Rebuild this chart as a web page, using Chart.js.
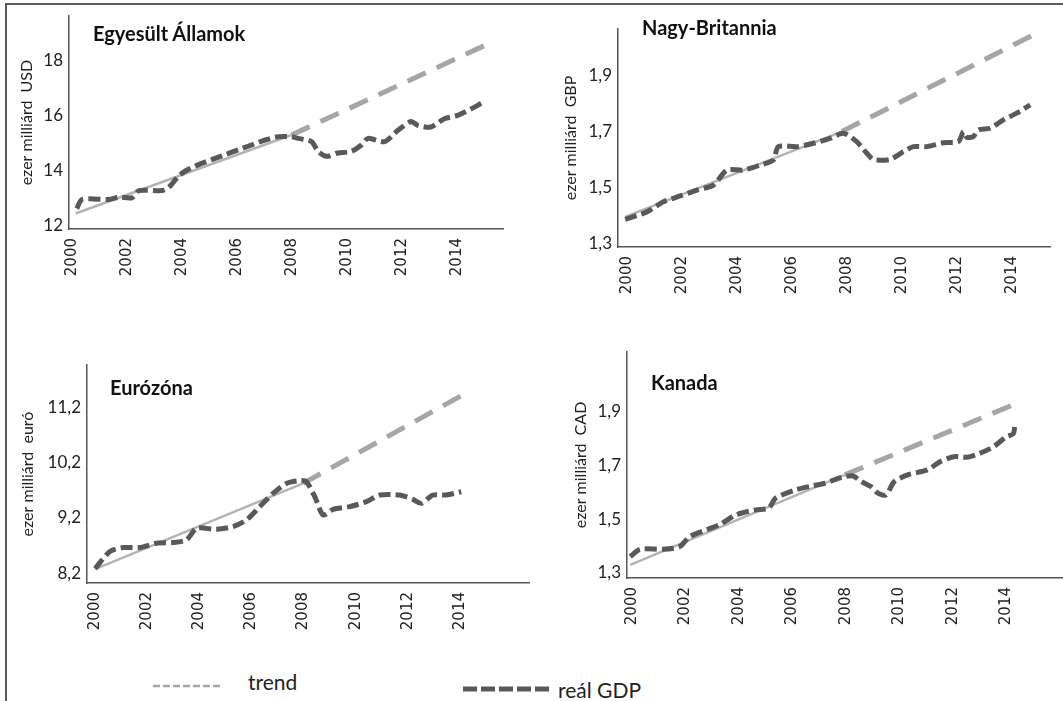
<!DOCTYPE html>
<html>
<head>
<meta charset="utf-8">
<script src="https://cdn.jsdelivr.net/npm/chart.js@4/dist/chart.umd.min.js"></script>
<style>
  body { margin: 0; width: 1063px; height: 701px; overflow: hidden; background: #fff; position: relative; font-family: Lato, sans-serif; }
  .frame { position: absolute; left: 5px; top: 3px; width: 1100px; height: 800px; border-top: 2px solid #5b5b5b; border-left: 2px solid #5b5b5b; }
  canvas { position: absolute; }
  .ttl { position: absolute; font: bold 20px Lato; color: #111; line-height: 20px; white-space: nowrap; }
  .legtxt { position: absolute; font: 21px Lato; color: #222; line-height: 22px; white-space: nowrap; }
  svg { position: absolute; }
</style>
</head>
<body>
<div class="frame"></div>
<canvas id="us"></canvas>
<canvas id="uk"></canvas>
<canvas id="eu"></canvas>
<canvas id="ca"></canvas>
<div class="ttl" style="left:93px;top:23px">Egyesült Államok</div>
<div class="ttl" style="left:642px;top:17px">Nagy-Britannia</div>
<div class="ttl" style="left:110px;top:377px">Eurózóna</div>
<div class="ttl" style="left:651px;top:372px">Kanada</div>
<svg style="left:150px;top:676px" width="420" height="24">
  <line x1="3" y1="10" x2="72" y2="10" stroke="#a6a6a6" stroke-width="2.5" stroke-dasharray="7 3"/>
  <line x1="313" y1="13" x2="402" y2="13" stroke="#595959" stroke-width="5" stroke-dasharray="14 4"/>
</svg>
<div class="legtxt" style="left:248px;top:671px">trend</div>
<div class="legtxt" style="left:558px;top:679px">reál GDP</div>

<script>
const yearTicks = [2000, 2002, 2004, 2006, 2008, 2010, 2012, 2014];

// Egyesült Államok, ezer milliárd USD
const usTicks = [12, 14, 16, 18];
const usGdp = [[2000.17, 12.63], [2000.37, 12.96], [2001.34, 12.96], [2001.70, 13.04], [2002.18, 13.02],
  [2002.43, 13.28], [2003.27, 13.28], [2003.51, 13.39], [2003.88, 13.81], [2004.12, 13.99], [2004.60, 14.22],
  [2005.08, 14.40], [2005.57, 14.58], [2006.05, 14.76], [2006.53, 14.93], [2007.02, 15.11], [2007.50, 15.23],
  [2007.98, 15.23], [2008.22, 15.17], [2008.71, 15.05], [2008.95, 14.70], [2009.25, 14.52], [2009.67, 14.64],
  [2010.16, 14.70], [2010.52, 14.93], [2010.76, 15.17], [2011.36, 15.05], [2011.85, 15.46], [2012.33, 15.78],
  [2012.57, 15.64], [2013.05, 15.58], [2013.54, 15.88], [2014.02, 16.00], [2014.50, 16.23], [2014.93, 16.47]];
const usTrendSolid = [[2000.13, 12.45], [2007.98, 15.29]];
const usTrendDash = [[2007.98, 15.29], [2015.35, 18.69]];

// Nagy-Britannia, ezer milliárd GBP
const ukTicks = [1.3, 1.5, 1.7, 1.9];
const ukGdp = [[1999.94, 1.385], [2000.73, 1.412], [2001.33, 1.448], [2001.94, 1.469], [2002.55, 1.490],
  [2003.15, 1.508], [2003.64, 1.562], [2004.24, 1.562], [2004.85, 1.580], [2005.33, 1.598], [2005.51, 1.646],
  [2006.18, 1.646], [2006.79, 1.658], [2007.39, 1.676], [2007.88, 1.694], [2008.36, 1.664], [2008.73, 1.622],
  [2008.97, 1.600], [2009.57, 1.600], [2010.06, 1.628], [2010.42, 1.646], [2010.91, 1.646], [2011.51, 1.660],
  [2012.06, 1.664], [2012.24, 1.700], [2012.36, 1.680], [2012.60, 1.682], [2012.79, 1.706], [2013.21, 1.712],
  [2013.69, 1.742], [2014.18, 1.766], [2014.67, 1.796]];
const ukTrendSolid = [[1999.94, 1.394], [2007.82, 1.700]];
const ukTrendDash = [[2007.82, 1.700], [2014.79, 2.047]];

// Eurózóna, ezer milliárd euró
const euTicks = [8.2, 9.2, 10.2, 11.2];
const euGdp = [[2000.00, 8.28], [2000.57, 8.59], [2001.08, 8.66], [2001.72, 8.66], [2002.36, 8.74],
  [2003.00, 8.75], [2003.51, 8.80], [2003.90, 9.01], [2004.66, 8.99], [2005.30, 9.04], [2005.81, 9.16],
  [2006.32, 9.40], [2006.83, 9.64], [2007.34, 9.82], [2007.85, 9.87], [2008.11, 9.85], [2008.43, 9.58],
  [2008.75, 9.25], [2009.13, 9.35], [2009.77, 9.40], [2010.41, 9.49], [2010.92, 9.61], [2011.69, 9.61],
  [2012.20, 9.53], [2012.52, 9.46], [2012.96, 9.61], [2013.47, 9.61], [2014.05, 9.67]];
const euTrendSolid = [[2000.00, 8.27], [2007.98, 9.82]];
const euTrendDash = [[2007.98, 9.82], [2014.11, 11.42]];

// Kanada, ezer milliárd CAD
const caTicks = [1.3, 1.5, 1.7, 1.9];
const caGdp = [[1999.93, 1.361], [2000.30, 1.388], [2001.16, 1.388], [2001.78, 1.398], [2002.15, 1.435],
  [2002.77, 1.460], [2003.26, 1.479], [2003.88, 1.516], [2004.62, 1.535], [2005.11, 1.541], [2005.36, 1.578],
  [2006.10, 1.609], [2006.72, 1.624], [2007.21, 1.634], [2007.83, 1.656], [2008.26, 1.661], [2008.57, 1.640],
  [2008.94, 1.621], [2009.19, 1.597], [2009.49, 1.590], [2009.80, 1.640], [2010.30, 1.665], [2011.04, 1.684],
  [2011.53, 1.715], [2012.03, 1.733], [2012.52, 1.731], [2013.01, 1.746], [2013.51, 1.770], [2014.00, 1.808],
  [2014.25, 1.818], [2014.31, 1.851]];
const caTrendSolid = [[1999.93, 1.330], [2007.95, 1.665]];
const caTrendDash = [[2007.95, 1.665], [2014.31, 1.929]];

const pts = arr => arr.map(([x, y]) => ({x, y}));
const comma = v => String(v).replace('.', ',');

function makePanel(p) {
  const cv = document.getElementById(p.id);
  cv.width = p.w;
  cv.height = p.h;
  cv.style.left = p.x + 'px';
  cv.style.top = p.y + 'px';

  new Chart(cv, {
    type: 'line',
    data: {
      datasets: [
        { data: pts(p.gdp), borderColor: '#595959', borderWidth: 5, borderDash: [12, 5], tension: 0.25, pointRadius: 0 },
        { data: pts(p.trendDash), borderColor: '#a6a6a6', borderWidth: 5, borderDash: [20, 12], pointRadius: 0 },
        { data: pts(p.trendSolid), borderColor: '#b4b4b4', borderWidth: 2.5, pointRadius: 0 }
      ]
    },
    options: {
      responsive: false,
      animation: false,
      events: [],
      layout: { padding: { top: p.padTop, right: 12, left: 0, bottom: 0 } },
      plugins: { legend: { display: false }, tooltip: { enabled: false } },
      scales: {
        x: {
          type: 'linear', min: p.xMin, max: p.xMax,
          grid: { display: false, drawTicks: false },
          border: { display: true, color: '#555', width: 1.5 },
          afterBuildTicks: s => { s.ticks = yearTicks.map(v => ({value: v})); },
          afterFit: s => { s.height = p.xAxisH; },
          ticks: {
            autoSkip: false, minRotation: 90, maxRotation: 90, padding: 9, color: '#222',
            font: { family: 'DejaVu Sans', size: 15 },
            callback: v => String(v)
          }
        },
        y: {
          min: p.yMin, max: p.yMax,
          grid: { display: false, drawTicks: false },
          border: { display: true, color: '#555', width: 1.5 },
          afterBuildTicks: s => { s.ticks = p.ticks.map(v => ({value: v})); },
          afterFit: s => { s.width = p.yAxisW; },
          ticks: { padding: 6, color: '#222', font: { family: 'Lato', size: 17 }, callback: v => comma(v) },
          title: { display: true, text: p.yTitle, color: '#222', padding: { top: p.titlePad, bottom: 0 },
                   font: { family: 'Lato', size: 16 } }
        }
      }
    }
  });
}

makePanel({ id: 'us', x: 8, y: 0, w: 507, h: 300, padTop: 12, yAxisW: 61, xAxisH: 71, titlePad: 9,
  xMin: 1999.89, xMax: 2015.67, yMin: 11.89, yMax: 19.59, ticks: usTicks, yTitle: 'ezer milliárd  USD',
  gdp: usGdp, trendSolid: usTrendSolid, trendDash: usTrendDash });

makePanel({ id: 'uk', x: 555, y: 0, w: 507, h: 300, padTop: 29, yAxisW: 63, xAxisH: 53, titlePad: 6,
  xMin: 1999.68, xMax: 2015.39, yMin: 1.286, yMax: 2.068, ticks: ukTicks, yTitle: 'ezer milliárd  GBP',
  gdp: ukGdp, trendSolid: ukTrendSolid, trendDash: ukTrendDash });

makePanel({ id: 'eu', x: 8, y: 345, w: 533, h: 300, padTop: 20, yAxisW: 79, xAxisH: 62, titlePad: 10,
  xMin: 1999.69, xMax: 2016.65, yMin: 8.02, yMax: 11.96, ticks: euTicks, yTitle: 'ezer milliárd  euró',
  gdp: euGdp, trendSolid: euTrendSolid, trendDash: euTrendDash });

makePanel({ id: 'ca', x: 560, y: 335, w: 515, h: 310, padTop: 17, yAxisW: 67, xAxisH: 67, titlePad: 11,
  xMin: 1999.81, xMax: 2016.11, yMin: 1.281, yMax: 2.123, ticks: caTicks, yTitle: 'ezer milliárd  CAD',
  gdp: caGdp, trendSolid: caTrendSolid, trendDash: caTrendDash });
</script>
</body>
</html>
